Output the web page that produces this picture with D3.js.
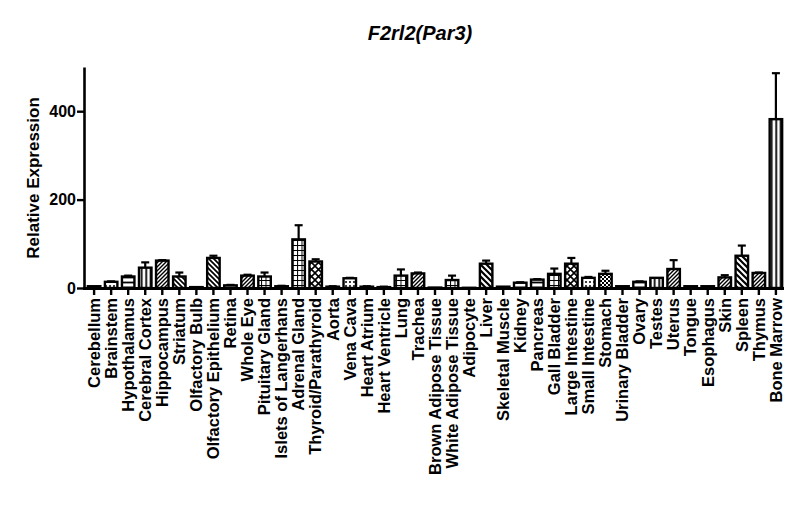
<!DOCTYPE html>
<html>
<head>
<meta charset="utf-8">
<script src="https://cdn.jsdelivr.net/npm/d3@7"></script>
<style>
  body { margin: 0; background: #fff; }
  svg { display: block; font-family: Arial, 'Liberation Sans', sans-serif; }
</style>
</head>
<body>
<svg id="chart" width="800" height="528"></svg>
<script>
// tissues on the x axis
const tissues = [
  'Cerebellum', 'Brainstem', 'Hypothalamus', 'Cerebral Cortex', 'Hippocampus',
  'Striatum', 'Olfactory Bulb', 'Olfactory Epithelium', 'Retina', 'Whole Eye',
  'Pituitary Gland', 'Islets of Langerhans', 'Adrenal Gland', 'Thyroid/Parathyroid',
  'Aorta', 'Vena Cava', 'Heart Atrium', 'Heart Ventricle', 'Lung', 'Trachea',
  'Brown Adipose Tissue', 'White Adipose Tissue', 'Adipocyte', 'Liver',
  'Skeletal Muscle', 'Kidney', 'Pancreas', 'Gall Bladder', 'Large Intestine',
  'Small Intestine', 'Stomach', 'Urinary Bladder', 'Ovary', 'Testes', 'Uterus',
  'Tongue', 'Esophagus', 'Skin', 'Spleen', 'Thymus', 'Bone Marrow'
];

// mean relative expression
const expression = [
  4, 14, 26, 46, 62,
  26, 2, 68, 6, 28,
  26, 4, 110, 60,
  3, 22, 3, 2, 28, 33,
  1, 18, 0.5, 55,
  3, 12, 19, 32, 55,
  23, 32, 4, 14, 23, 43,
  4, 4, 24, 73, 34, 382
];

// upper error (SEM)
const errors = [
  0, 1, 2, 12, 1,
  9, 0, 5, 1, 2,
  9, 1, 32, 5,
  1, 1, 1, 1, 14, 2,
  0, 10, 0, 7,
  0, 1, 1, 12, 13,
  2, 7, 0, 1, 0, 20,
  0, 0, 5, 23, 1, 104
];

const yTicks = [0, 200, 400];

// fill pattern for each bar
const fills = [
  'none', 'dots', 'hlines', 'vlines', 'diagUp',
  'diagDown', 'none', 'diagDown', 'none', 'diagUp',
  'grid', 'none', 'grid', 'cross',
  'none', 'dots', 'none', 'none', 'grid', 'diagUp',
  'none', 'grid', 'none', 'diagWide',
  'none', 'hlines', 'hlines', 'grid', 'cross',
  'dots', 'checker', 'none', 'hlines', 'vlines', 'diagUp',
  'none', 'none', 'diagUp', 'diagWide', 'diagUp', 'vlines'
];

const data = tissues.map((t, i) => ({ name: t, value: expression[i], err: errors[i], fill: fills[i] }));

const svg = d3.select('#chart');

// patterns
const defs = svg.append('defs');
function pattern(id, size, draw) {
  const p = defs.append('pattern')
    .attr('id', id)
    .attr('patternUnits', 'userSpaceOnUse')
    .attr('width', size[0])
    .attr('height', size[1]);
  p.append('rect').attr('width', size[0]).attr('height', size[1]).attr('fill', '#fff');
  draw(p);
}
pattern('none', [4, 4], () => {});
pattern('hlines', [5, 5], (p) => p.append('path').attr('d', 'M0,2.5H5').attr('stroke', '#000').attr('stroke-width', 1.8));
pattern('vlines', [4.5, 4], (p) => p.append('path').attr('d', 'M2.2,0V4').attr('stroke', '#000').attr('stroke-width', 1.8));
pattern('diagUp', [4, 4], (p) => p.append('path').attr('d', 'M-1,1L1,-1M0,4L4,0M3,5L5,3').attr('stroke', '#000').attr('stroke-width', 1.4));
pattern('diagDown', [5, 5], (p) => p.append('path').attr('d', 'M-1,4L1,6M0,0L5,5M4,-1L6,1').attr('stroke', '#000').attr('stroke-width', 1.7));
pattern('diagWide', [6, 6], (p) => p.append('path').attr('d', 'M-1,5L1,7M0,0L6,6M5,-1L7,1').attr('stroke', '#000').attr('stroke-width', 2.2));
pattern('grid', [4.5, 5], (p) => p.append('path').attr('d', 'M0,0V5M0,0H4.5').attr('stroke', '#000').attr('stroke-width', 2));
pattern('cross', [7, 7], (p) => p.append('path').attr('d', 'M0,0L7,7M7,0L0,7').attr('stroke', '#000').attr('stroke-width', 1.6));
pattern('dots', [4, 4], (p) => p.append('circle').attr('cx', 2).attr('cy', 2).attr('r', 1).attr('fill', '#000'));
pattern('checker', [4, 4], (p) => {
  p.append('rect').attr('width', 2).attr('height', 2).attr('fill', '#000');
  p.append('rect').attr('x', 2).attr('y', 2).attr('width', 2).attr('height', 2).attr('fill', '#000');
});

const x = d3.scaleBand()
  .domain(tissues)
  .range([86, 784])
  .paddingInner(0.15)
  .paddingOuter(0.05);

const y = d3.scaleLinear()
  .domain([0, 500])
  .range([288, 67]);

// bars
svg.append('g')
  .selectAll('rect')
  .data(data)
  .join('rect')
  .attr('x', (d) => x(d.name) + 1)
  .attr('y', (d) => y(d.value))
  .attr('width', x.bandwidth() - 2)
  .attr('height', (d) => y(0) - y(d.value))
  .attr('fill', (d) => `url(#${d.fill})`)
  .attr('stroke', '#000')
  .attr('stroke-width', 2.4);

// error bars (upper only)
const errG = svg.append('g').attr('stroke', '#000').attr('stroke-width', 2.2);
data.filter((d) => d.err > 0.5).forEach((d) => {
  const cx = x(d.name) + x.bandwidth() / 2;
  errG.append('line')
    .attr('x1', cx).attr('x2', cx)
    .attr('y1', y(d.value)).attr('y2', y(d.value + d.err));
  errG.append('line')
    .attr('x1', cx - 4).attr('x2', cx + 4)
    .attr('y1', y(d.value + d.err)).attr('y2', y(d.value + d.err));
});

// y axis
const yAxis = svg.append('g')
  .attr('transform', 'translate(84,0)')
  .call(d3.axisLeft(y).tickValues(yTicks).tickSize(7).tickSizeOuter(0).tickPadding(1));
yAxis.select('.domain').attr('stroke-width', 2.6);
yAxis.selectAll('.tick line').attr('stroke-width', 2.4);
yAxis.selectAll('.tick text')
  .attr('font-size', 16)
  .attr('font-weight', 'bold')
  .attr('fill', '#000');

// x axis
const xAxis = svg.append('g')
  .attr('transform', `translate(0,${y(0)})`)
  .call(d3.axisBottom(x).tickSize(7).tickSizeOuter(0).tickPadding(2));
xAxis.select('.domain').attr('d', `M83,0.5H784`).attr('stroke-width', 2.8);
xAxis.selectAll('.tick line').attr('stroke-width', 2.4);
xAxis.selectAll('.tick text')
  .attr('font-size', 16.5)
  .attr('font-weight', 'bold')
  .attr('fill', '#000')
  .attr('text-anchor', 'end')
  .attr('dy', '0.35em')
  .attr('transform', 'translate(0,2) rotate(-90)')
  .attr('x', -8)
  .attr('y', 0);

// y label
svg.append('text')
  .attr('transform', 'translate(39,178) rotate(-90)')
  .attr('text-anchor', 'middle')
  .attr('font-size', 17)
  .attr('font-weight', 'bold')
  .text('Relative Expression');

// title
svg.append('text')
  .attr('x', 420)
  .attr('y', 40)
  .attr('text-anchor', 'middle')
  .attr('font-size', 20)
  .attr('font-weight', 'bold')
  .attr('font-style', 'italic')
  .text('F2rl2(Par3)');
</script>
</body>
</html>
